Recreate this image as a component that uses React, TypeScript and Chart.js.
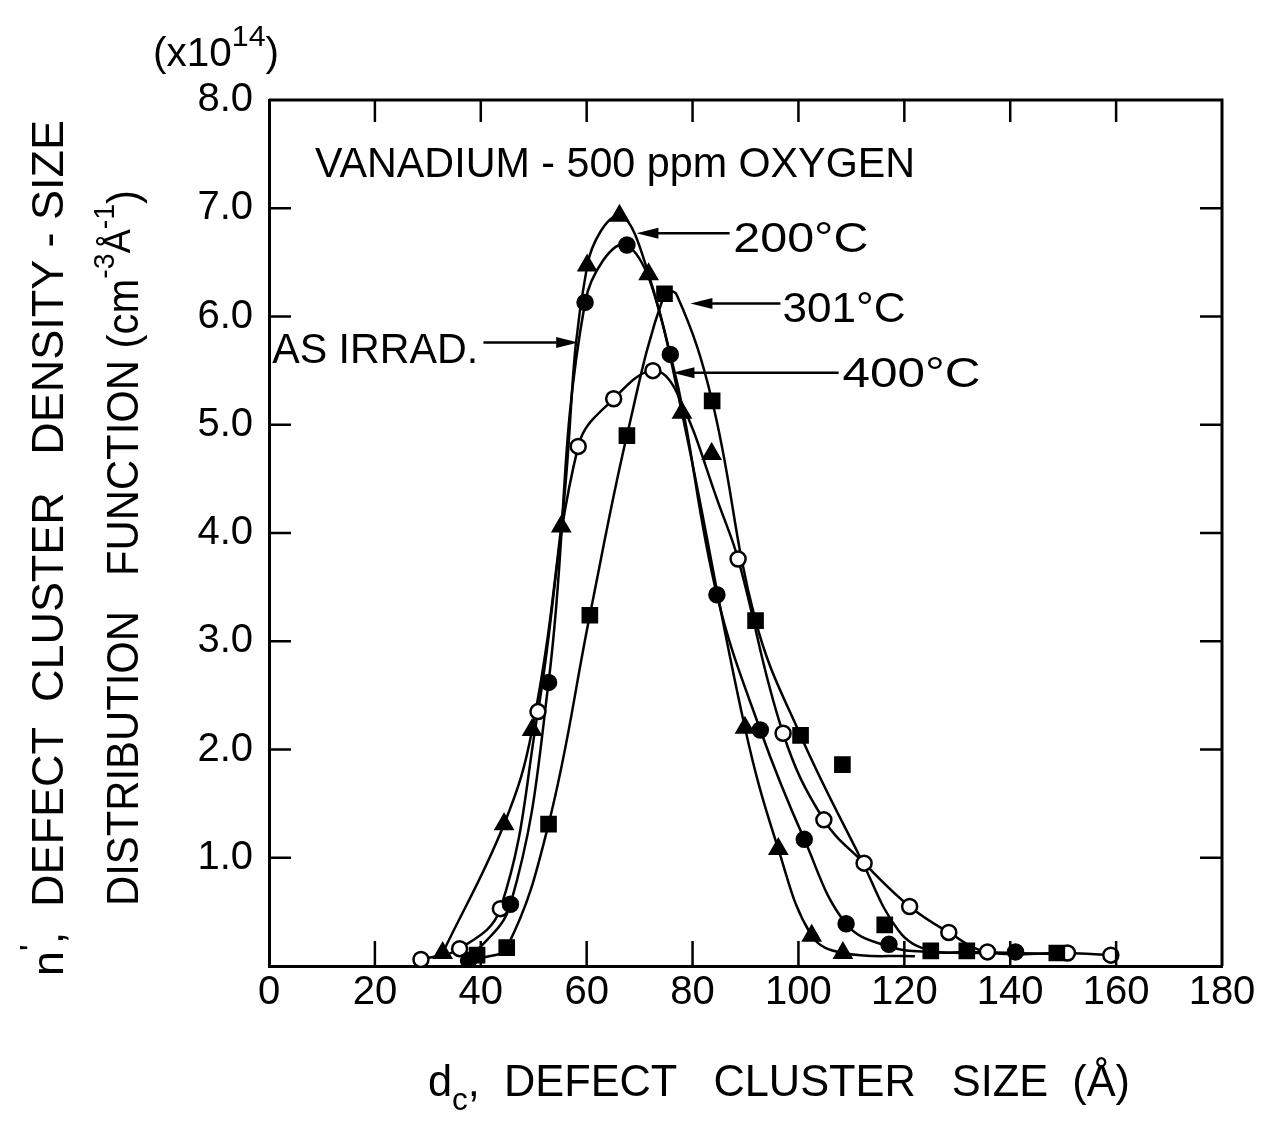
import React, { useEffect, useRef } from 'react';
import { Chart, registerables } from 'chart.js';

Chart.register(...registerables);

// ---------------- data ----------------
const xTickValues = [0, 20, 40, 60, 80, 100, 120, 140, 160, 180];
const yTickValues = [0, 1, 2, 3, 4, 5, 6, 7, 8];

// AS IRRAD. (filled circles)
const asIrradX = [37.7, 45.6, 52.8, 59.7, 67.6, 75.8, 84.6, 92.8, 101.1, 109.0, 117.1, 141.0];
const asIrradY = [0.05, 0.57, 2.62, 6.13, 6.66, 5.65, 3.43, 2.18, 1.17, 0.39, 0.2, 0.13];
const asIrradCurveX = [37.7, 45.6, 52.8, 59.7, 67.6, 75.8, 84.6, 92.8, 101.1, 109.0, 117.1, 125.0, 141.0];
const asIrradCurveY = [0.05, 0.57, 2.62, 6.13, 6.66, 5.65, 3.43, 2.18, 1.17, 0.39, 0.18, 0.13, 0.12];

// 200°C (filled triangles)
const t200X = [32.8, 44.4, 49.7, 55.2, 60.1, 66.2, 71.7, 78.0, 83.6, 89.9, 96.2, 102.5, 108.4];
const t200Y = [0.12, 1.31, 2.18, 4.06, 6.47, 6.93, 6.39, 5.11, 4.73, 2.2, 1.08, 0.28, 0.12];
const t200CurveX = [32.8, 44.4, 49.7, 55.2, 60.1, 66.2, 71.7, 78.0, 89.9, 96.2, 102.5, 108.4, 122.0];
const t200CurveY = [0.12, 1.31, 2.18, 4.06, 6.47, 6.93, 6.39, 5.11, 2.2, 1.08, 0.28, 0.12, 0.09];

// 301°C (filled squares)
const s301X = [39.3, 44.9, 52.8, 60.6, 67.6, 74.7, 83.7, 91.9, 100.4, 108.3, 116.3, 125.0, 131.8, 148.8];
const s301Y = [0.1, 0.17, 1.31, 3.24, 4.9, 6.21, 5.22, 3.19, 2.13, 1.86, 0.38, 0.14, 0.14, 0.12];
const s301CurveX = [40.0, 44.9, 52.8, 60.6, 67.6, 74.7, 77.0, 83.7, 91.9, 100.4, 111.7, 119.0, 125.0, 131.8, 148.8];
const s301CurveY = [0.07, 0.17, 1.31, 3.24, 4.9, 6.21, 6.2, 5.22, 3.19, 2.13, 1.0, 0.32, 0.14, 0.13, 0.11];

// 400°C (open circles)
const o400X = [28.7, 36.0, 43.7, 50.8, 58.4, 65.1, 72.5, 88.6, 97.1, 104.8, 112.4, 121.0, 128.4, 135.7, 150.8, 159.0];
const o400Y = [0.06, 0.16, 0.53, 2.35, 4.8, 5.24, 5.5, 3.76, 2.15, 1.35, 0.95, 0.55, 0.31, 0.13, 0.12, 0.1];
const o400CurveX = [28.7, 36.0, 43.7, 50.8, 58.4, 65.1, 72.5, 77.0, 85.3, 88.6, 97.1, 104.8, 112.4, 121.0, 128.4, 135.7, 150.8, 159.0];
const o400CurveY = [0.06, 0.16, 0.53, 2.35, 4.8, 5.24, 5.5, 5.3, 4.22, 3.76, 2.15, 1.35, 0.95, 0.55, 0.31, 0.13, 0.12, 0.1];

const titleText = 'VANADIUM - 500 ppm OXYGEN';
const seriesLabels = ['AS IRRAD.', '200°C', '301°C', '400°C'];

const FONT = '"Liberation Sans", Arial, sans-serif';

const pts = (xs: number[], ys: number[]) => xs.map((x, i) => ({ x, y: ys[i] }));

type Piece = { text: string; size: number; dy?: number };

function drawRich(ctx: CanvasRenderingContext2D, pieces: Piece[], x: number, y: number, target: number, rotate = false) {
  ctx.save();
  ctx.translate(x, y);
  if (rotate) ctx.rotate(-Math.PI / 2);
  let total = 0;
  const widths: number[] = [];
  for (const p of pieces) {
    ctx.font = `${p.size}px ${FONT}`;
    const w = ctx.measureText(p.text).width;
    widths.push(w);
    total += w;
  }
  ctx.scale(target / total, 1);
  ctx.fillStyle = '#000';
  ctx.textAlign = 'left';
  ctx.textBaseline = 'alphabetic';
  let cx = 0;
  pieces.forEach((p, i) => {
    ctx.font = `${p.size}px ${FONT}`;
    ctx.fillText(p.text, cx, p.dy || 0);
    cx += widths[i];
  });
  ctx.restore();
}

function arrow(ctx: CanvasRenderingContext2D, x1: number, y: number, x2: number) {
  const dir = x2 > x1 ? 1 : -1;
  ctx.save();
  ctx.strokeStyle = '#000';
  ctx.fillStyle = '#000';
  ctx.lineWidth = 2.5;
  ctx.beginPath();
  ctx.moveTo(x1, y);
  ctx.lineTo(x2 - dir * 14, y);
  ctx.stroke();
  ctx.beginPath();
  ctx.moveTo(x2, y);
  ctx.lineTo(x2 - dir * 22, y - 5.5);
  ctx.lineTo(x2 - dir * 22, y + 5.5);
  ctx.closePath();
  ctx.fill();
  ctx.restore();
}

// annotation anchors in data units
const labelAnchors = [
  { text: seriesLabels[0], x: 0.6, y: 5.57, w: 206, arrowFrom: 40.5, arrowTo: 58.4, arrowY: 5.76 },
  { text: seriesLabels[1], x: 87.7, y: 6.6, w: 135, arrowFrom: 87.0, arrowTo: 69.4, arrowY: 6.77 },
  { text: seriesLabels[2], x: 97.0, y: 5.95, w: 123, arrowFrom: 96.6, arrowTo: 79.6, arrowY: 6.12 },
  { text: seriesLabels[3], x: 108.3, y: 5.35, w: 138, arrowFrom: 107.6, arrowTo: 76.2, arrowY: 5.48 },
];

const decorPlugin = {
  id: 'decor',
  afterDraw(chart: any) {
    const ctx: CanvasRenderingContext2D = chart.ctx;
    const { left, right, top, bottom } = chart.chartArea;
    const xs = chart.scales.x;
    const ys = chart.scales.y;
    ctx.save();
    ctx.strokeStyle = '#000';
    ctx.lineWidth = 3;
    ctx.beginPath();
    ctx.moveTo(left, top);
    ctx.lineTo(right, top);
    ctx.lineTo(right, bottom);
    ctx.stroke();
    // inward ticks
    ctx.lineWidth = 2.5;
    ctx.beginPath();
    xs.ticks.forEach((t: any) => {
      if (t.value <= xs.min || t.value >= xs.max) return;
      const px = xs.getPixelForValue(t.value);
      ctx.moveTo(px, bottom);
      ctx.lineTo(px, bottom - 25);
      ctx.moveTo(px, top);
      ctx.lineTo(px, top + 22);
    });
    ys.ticks.forEach((t: any) => {
      if (t.value <= ys.min || t.value >= ys.max) return;
      const py = ys.getPixelForValue(t.value);
      ctx.moveTo(left, py);
      ctx.lineTo(left + 22, py);
      ctx.moveTo(right, py);
      ctx.lineTo(right - 22, py);
    });
    ctx.stroke();
    ctx.restore();

    // in-plot title
    drawRich(ctx, [{ text: titleText, size: 42 }], xs.getPixelForValue(8.7), ys.getPixelForValue(7.29), 600);
    // series labels and arrows
    labelAnchors.forEach((a) => {
      drawRich(ctx, [{ text: a.text, size: 42 }], xs.getPixelForValue(a.x), ys.getPixelForValue(a.y), a.w);
      arrow(ctx, xs.getPixelForValue(a.arrowFrom), ys.getPixelForValue(a.arrowY), xs.getPixelForValue(a.arrowTo));
    });

    // multiplier
    drawRich(ctx, [
      { text: '(x10', size: 40 },
      { text: '14', size: 30, dy: -20 },
      { text: ')', size: 40 },
    ], 153, 66, 126);

    // x-axis title
    drawRich(ctx, [
      { text: 'd', size: 44 },
      { text: 'c', size: 32, dy: 14 },
      { text: ',  DEFECT   CLUSTER   SIZE  (Å)', size: 44 },
    ], 428, 1096, 702);

    // y-axis title (two lines, rotated)
    drawRich(ctx, [
      { text: 'n', size: 44 },
      { text: "'", size: 34, dy: -20 },
      { text: ',  DEFECT  CLUSTER   DENSITY - SIZE', size: 44 },
    ], 63, 976, 856, true);
    drawRich(ctx, [
      { text: 'DISTRIBUTION   FUNCTION (cm', size: 44 },
      { text: '-3', size: 30, dy: -24 },
      { text: 'Å', size: 38, dy: -8 },
      { text: '-1', size: 30, dy: -24 },
      { text: ')', size: 44 },
    ], 138, 906, 716, true);
  },
};

export default function App() {
  const ref = useRef<HTMLCanvasElement | null>(null);

  useEffect(() => {
    document.body.style.margin = '0';
    const canvas = ref.current;
    if (!canvas) return;
    const lineDs = (xs: number[], ys: number[]) => ({
      type: 'line' as const,
      data: pts(xs, ys),
      borderColor: '#000',
      borderWidth: 2.5,
      pointRadius: 0,
      tension: 0.4,
      fill: false,
      order: 2,
    });
    const markDs = (label: string, xs: number[], ys: number[], style: string, bg: string, r: number) => ({
      type: 'scatter' as const,
      label,
      data: pts(xs, ys),
      showLine: false,
      pointStyle: style,
      pointRadius: r,
      pointBackgroundColor: bg,
      pointBorderColor: '#000',
      pointBorderWidth: 2.5,
      order: 1,
    });

    const chart = new Chart(canvas, {
      type: 'scatter',
      data: {
        datasets: [
          markDs(seriesLabels[0], asIrradX, asIrradY, 'circle', '#000', 7.5),
          markDs(seriesLabels[1], t200X, t200Y, 'triangle', '#000', 9.5),
          markDs(seriesLabels[2], s301X, s301Y, 'rect', '#000', 10),
          markDs(seriesLabels[3], o400X, o400Y, 'circle', '#fff', 7.5),
          lineDs(asIrradCurveX, asIrradCurveY),
          lineDs(t200CurveX, t200CurveY),
          lineDs(s301CurveX, s301CurveY),
          lineDs(o400CurveX, o400CurveY),
        ] as any,
      },
      options: {
        responsive: false,
        animation: false,
        devicePixelRatio: 1,
        layout: { padding: { left: 0, right: 44, top: 100, bottom: 0 } },
        plugins: { legend: { display: false }, tooltip: { enabled: false } },
        scales: {
          x: {
            type: 'linear',
            min: 0,
            max: 180,
            afterBuildTicks: (s: any) => { s.ticks = xTickValues.map((v) => ({ value: v })); },
            afterFit: (s: any) => { s.height = 159; },
            ticks: { color: '#000', font: { family: FONT, size: 40 }, padding: 3, maxRotation: 0, autoSkip: false, callback: (v: any) => String(v) },
            grid: { display: false, drawTicks: false },
            border: { display: true, color: '#000', width: 3 },
          },
          y: {
            type: 'linear',
            min: 0,
            max: 8,
            afterBuildTicks: (s: any) => { s.ticks = yTickValues.map((v) => ({ value: v })); },
            afterFit: (s: any) => { s.width = 269; },
            ticks: { color: '#000', font: { family: FONT, size: 40 }, padding: 16, autoSkip: false, callback: (v: any) => (v === 0 ? '' : Number(v).toFixed(1)) },
            grid: { display: false, drawTicks: false },
            border: { display: true, color: '#000', width: 3 },
          },
        },
      },
      plugins: [decorPlugin],
    });
    return () => chart.destroy();
  }, []);

  return (
    <div style={{ width: 1266, height: 1125, background: '#fff' }}>
      <canvas ref={ref} width={1266} height={1125} style={{ display: 'block' }} />
    </div>
  );
}
